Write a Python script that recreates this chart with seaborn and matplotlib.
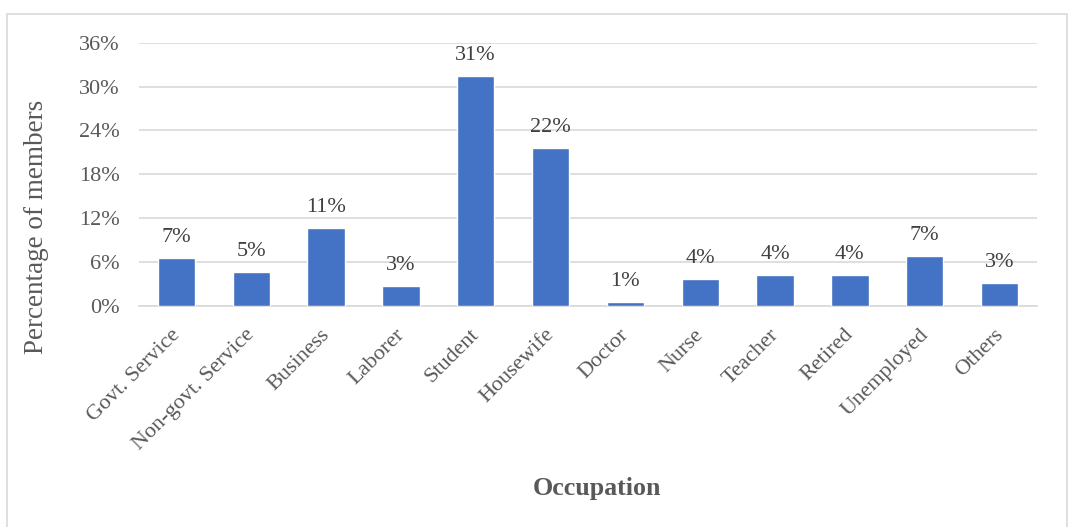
import matplotlib
matplotlib.use("Agg")
import matplotlib.pyplot as plt
import matplotlib.transforms as mtransforms
import seaborn as sns
import pandas as pd
from matplotlib.patches import Rectangle

# data
occupations = ["Govt. Service", "Non-govt. Service", "Business", "Laborer", "Student",
               "Housewife", "Doctor", "Nurse", "Teacher", "Retired", "Unemployed", "Others"]
percent = [6.5, 4.6, 10.6, 2.7, 31.4, 21.6, 0.5, 3.7, 4.2, 4.2, 6.8, 3.1]
bar_labels = ["7%", "5%", "11%", "3%", "31%", "22%", "1%", "4%", "4%", "4%", "7%", "3%"]
y_ticks = [0, 6, 12, 18, 24, 30, 36]

df = pd.DataFrame({"Occupation": occupations, "Percent": percent})

sns.set_style("white")
plt.rcParams["font.family"] = ["Liberation Serif", "DejaVu Serif"]

grey = "#595959"
fig = plt.figure(figsize=(10.7, 5.27), dpi=100)
ax = fig.add_axes([139 / 1070, 1 - 306 / 527, (1037 - 139) / 1070, (306 - 42.7) / 527])

sns.barplot(data=df, x="Occupation", y="Percent", color="#4472C4", width=0.5,
            saturation=1, ax=ax, zorder=3)

ax.set_ylim(0, 36)
ax.set_xlim(-0.5, len(occupations) - 0.5)
ax.set_yticks(y_ticks)
ax.set_yticklabels([f"{t}%" for t in y_ticks], fontsize=16, color=grey)
ax.yaxis.grid(True, color="#D9D9D9", linewidth=1.2, zorder=0)
ax.tick_params(axis="both", length=0)
ax.tick_params(axis="y", pad=14)
ax.tick_params(axis="x", pad=6)
shift = mtransforms.ScaledTranslation(-0.06, -0.11, fig.dpi_scale_trans)
for lbl in ax.get_xticklabels():
    lbl.set_rotation(45)
    lbl.set_ha("right")
    lbl.set_rotation_mode("anchor")
    lbl.set_fontsize(16)
    lbl.set_color(grey)
    lbl.set_transform(lbl.get_transform() + shift)

for s in ["top", "right", "left"]:
    ax.spines[s].set_visible(False)
ax.spines["bottom"].set_color("#D9D9D9")
ax.spines["bottom"].set_linewidth(1.2)

for i, (v, lab) in enumerate(zip(percent, bar_labels)):
    ax.annotate(lab, (i, v), xytext=(0, 8), textcoords="offset points",
                ha="center", va="bottom", fontsize=16, color="#404040")

ax.set_xlabel("")
ax.set_ylabel("")
fig.text(37 / 1070, 1 - 227 / 527, "Percentage of members", rotation=90,
         ha="center", va="center", fontsize=19.5, color=grey)
fig.text(597 / 1070, 1 - 488 / 527, "Occupation", ha="center", va="center",
         fontsize=18.7, fontweight="bold", color=grey)

# outer chart border
fig.patches.append(Rectangle((7 / 1070, -0.05), (1067 - 7) / 1070, 1.05 - 14 / 527,
                             transform=fig.transFigure, fill=False,
                             edgecolor="#D9D9D9", linewidth=1.2))

fig.savefig("out.png", dpi=100)
